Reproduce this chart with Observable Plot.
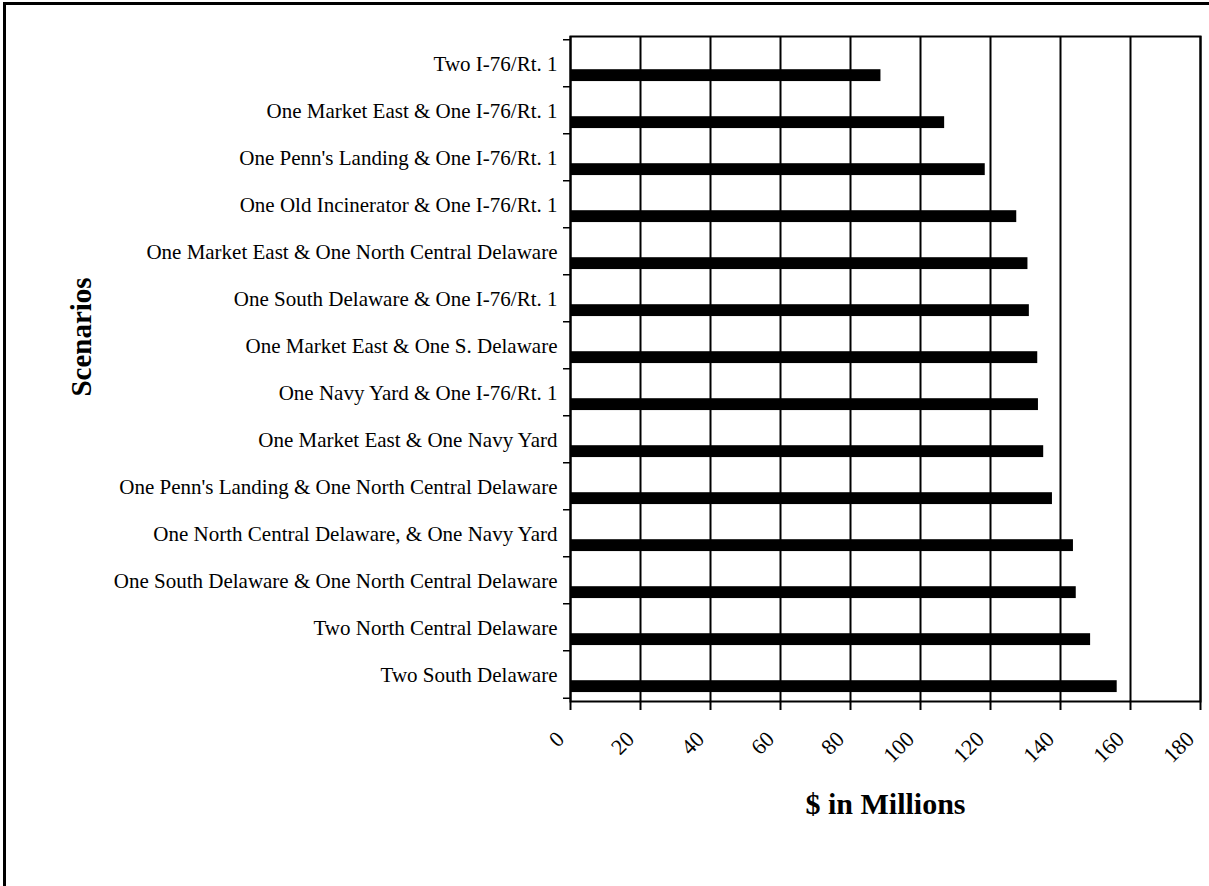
<!DOCTYPE html>
<html>
<head>
<meta charset="utf-8">
<script src="https://cdn.jsdelivr.net/npm/d3@7"></script>
<script src="https://cdn.jsdelivr.net/npm/@observablehq/plot@0.6"></script>
<style>
  html, body { margin: 0; padding: 0; background: #fff; overflow: hidden; }
  #page { position: relative; width: 1209px; height: 886px; overflow: hidden; }
  #outline {
    position: absolute; left: 3px; top: 2px; width: 1400px; height: 1200px;
    border: 3px solid #000; pointer-events: none;
  }
  #chart { position: absolute; left: 0; top: 0; }
</style>
</head>
<body>
<div id="page">
  <div id="chart"></div>
  <div id="outline"></div>
</div>
<script>
// Scenario names, top to bottom
const scenarios = [
  "Two I-76/Rt. 1",
  "One Market East & One I-76/Rt. 1",
  "One Penn's Landing & One I-76/Rt. 1",
  "One Old Incinerator & One I-76/Rt. 1",
  "One Market East & One North Central Delaware",
  "One South Delaware & One I-76/Rt. 1",
  "One Market East & One S. Delaware",
  "One Navy Yard & One I-76/Rt. 1",
  "One Market East & One Navy Yard",
  "One Penn's Landing & One North Central Delaware",
  "One North Central Delaware, & One Navy Yard",
  "One South Delaware & One North Central Delaware",
  "Two North Central Delaware",
  "Two South Delaware"
];

// Value of each scenario, $ in millions
const millions = [88.7, 106.9, 118.5, 127.5, 130.7, 131.1, 133.5, 133.7, 135.2, 137.7, 143.7, 144.5, 148.6, 156.2];

// X axis ticks
const xTicks = [0, 20, 40, 60, 80, 100, 120, 140, 160, 180];

const rows = scenarios.map((name, i) => ({name, value: millions[i]}));

const width = 1209, height = 886;
const marginLeft = 570, marginRight = 9, marginTop = 36, marginBottom = 185;
const band = (height - marginTop - marginBottom) / scenarios.length;
const serif = "'Liberation Serif', 'Times New Roman', serif";

const chart = Plot.plot({
  width, height, marginLeft, marginRight, marginTop, marginBottom,
  style: {fontFamily: serif, fontSize: "21px", color: "#000", background: "transparent"},
  x: {domain: [0, 180], ticks: xTicks},
  y: {domain: scenarios, padding: 0},
  marks: [
    // vertical gridlines
    Plot.ruleX(xTicks, {stroke: "#000", strokeWidth: 2}),
    // bars, drawn in the lower part of each band
    Plot.barX(rows, {y: "name", x: "value", fill: "#000", insetTop: band * 0.615, insetBottom: band * 0.125}),
    // category separator ticks on the left axis
    Plot.barX(scenarios, {y: d => d, x1: -2, x2: 0, fill: "#000", insetTop: -1, insetBottom: band - 1}),
    Plot.barX(scenarios.slice(-1), {y: d => d, x1: -2, x2: 0, fill: "#000", insetTop: band - 1, insetBottom: -1}),
    Plot.frame({stroke: "#000", strokeWidth: 2}),
    Plot.axisY({tickSize: 0, tickPadding: 13, label: null, fontSize: 21, fill: "#000"}),
    Plot.axisX({ticks: xTicks, tickSize: 9, strokeWidth: 2, tickFormat: () => "", label: null}),
    // rotated tick labels
    Plot.text(xTicks, {x: d => d, frameAnchor: "bottom", lineAnchor: "middle", text: d => String(d), rotate: -45,
      textAnchor: "end", dx: -10, dy: 34, fontSize: 22, fill: "#000"}),
    // axis titles
    Plot.text(["$ in Millions"], {frameAnchor: "bottom", lineAnchor: "middle", textAnchor: "middle",
      dy: 103, fontSize: 30, fontWeight: "bold", fill: "#000"}),
    Plot.text(["Scenarios"], {frameAnchor: "left", lineAnchor: "middle", textAnchor: "middle",
      dx: -489, dy: -32, rotate: -90, fontSize: 29, fontWeight: "bold", fill: "#000"})
  ]
});

document.getElementById("chart").appendChild(chart);
</script>
</body>
</html>
